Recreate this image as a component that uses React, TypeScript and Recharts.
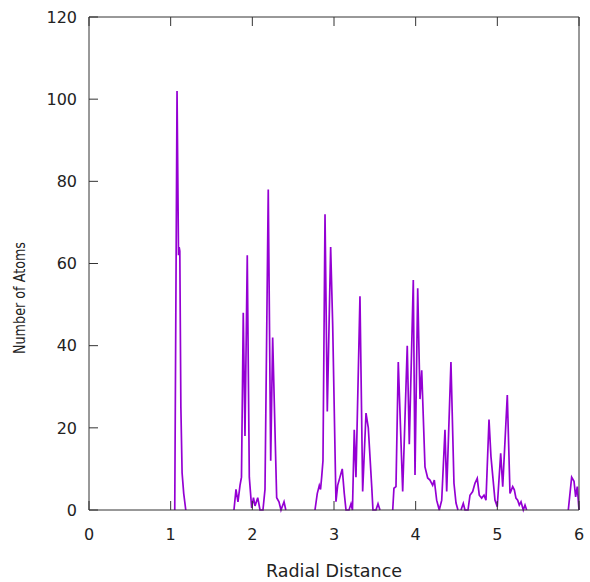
import { LineChart, Line, XAxis, YAxis } from "recharts";

// radial distance / atom counts, read per shell
const shell1R = [1.05, 1.078, 1.096, 1.104, 1.112, 1.125, 1.14, 1.16, 1.185];
const shell1N = [0, 102, 62, 64, 63, 25, 9, 4, 0];

const shell2R = [1.775, 1.8, 1.824, 1.849, 1.867, 1.889, 1.91, 1.938, 1.963, 1.992, 2.014, 2.033, 2.066, 2.094, 2.13, 2.155, 2.195, 2.225, 2.249, 2.298, 2.326, 2.351, 2.388, 2.41];
const shell2N = [0, 5, 2, 6, 8, 48, 18, 62, 8, 0.5, 3, 1, 3, 0, 0, 5, 78, 12, 42, 3, 2, 0, 2, 0];

const shell3R = [2.767, 2.795, 2.82, 2.835, 2.849, 2.865, 2.89, 2.918, 2.959, 2.984, 3.024, 3.045, 3.073, 3.101, 3.126, 3.147, 3.184, 3.208, 3.226, 3.248, 3.269, 3.318, 3.351, 3.392, 3.42, 3.462, 3.477, 3.514, 3.539, 3.563];
const shell3N = [0, 4, 6, 5, 8, 12, 72, 24, 64, 45, 2, 6, 8, 10, 4, 0, 0, 1.5, 0, 19.5, 8, 52, 4.5, 23.6, 20, 5.7, 0, 0, 1.5, 0];

const shell4R = [3.719, 3.734, 3.759, 3.787, 3.841, 3.897, 3.922, 3.971, 3.992, 4.025, 4.053, 4.074, 4.114, 4.147, 4.175, 4.208, 4.228, 4.257, 4.289, 4.319, 4.359, 4.38, 4.432, 4.469, 4.494, 4.518];
const shell4N = [0, 5.3, 5.7, 36, 4.5, 40, 16, 56, 8.5, 54, 27, 34, 10.5, 7.8, 7.3, 6, 7.3, 2.4, 0, 2.4, 19.5, 4.5, 36, 6.5, 1.7, 0];

const shell5R = [4.555, 4.583, 4.604, 4.641, 4.665, 4.698, 4.726, 4.754, 4.779, 4.808, 4.837, 4.861, 4.898, 4.922, 4.971, 4.999, 5.041, 5.066, 5.122, 5.155, 5.188, 5.208, 5.228, 5.249, 5.269, 5.29, 5.318, 5.339, 5.359];
const shell5N = [0, 1.6, 0, 0, 3.6, 4.5, 6.5, 7.7, 3.6, 2.9, 3.6, 2.4, 22, 13, 2.4, 0.8, 13.8, 5.7, 28, 4, 5.7, 4.9, 2.9, 2.4, 1.2, 2, 0, 1.2, 0];

const shell6R = [5.869, 5.91, 5.939, 5.959, 5.979, 6.0];
const shell6N = [0, 8, 7, 3.2, 5.7, 0];

const xTicks = [0, 1, 2, 3, 4, 5, 6];
const yTicks = [0, 20, 40, 60, 80, 100, 120];

const shells = [
  [shell1R, shell1N],
  [shell2R, shell2N],
  [shell3R, shell3N],
  [shell4R, shell4N],
  [shell5R, shell5N],
  [shell6R, shell6N],
];

// join shells, with a null between them so the line breaks on the baseline
const data: { r: number; n: number | null }[] = [];
shells.forEach(([rs, ns], i) => {
  if (i > 0) {
    const prev = shells[i - 1][0];
    data.push({ r: (prev[prev.length - 1] + rs[0]) / 2, n: null });
  }
  rs.forEach((r, j) => data.push({ r, n: ns[j] }));
});

const FONT = "'DejaVu Sans', Verdana, sans-serif";
const AXIS = "#333";
const tickStyle = { fontSize: 16, fill: "#222", fontFamily: FONT };
const noLabel = () => <g />;

export default function App() {
  return (
    <div style={{ position: "absolute", left: 0, top: 0, background: "#fff" }}>
      <LineChart
        width={590}
        height={582}
        data={data}
        margin={{ top: 16, right: 10, left: 9, bottom: 2 }}
      >
        <XAxis
          xAxisId="b"
          dataKey="r"
          type="number"
          domain={[0, 6]}
          ticks={xTicks}
          height={70}
          stroke={AXIS}
          tickSize={-9}
          tickMargin={28}
          tick={tickStyle}
          label={{
            value: "Radial Distance",
            position: "insideBottom",
            offset: 3,
            style: { fontSize: 17.5, fill: "#222", fontFamily: FONT },
          }}
        />
        <XAxis
          xAxisId="t"
          orientation="top"
          dataKey="r"
          type="number"
          domain={[0, 6]}
          ticks={xTicks}
          height={1}
          stroke={AXIS}
          tickSize={-9}
          tick={noLabel}
        />
        <YAxis
          yAxisId="l"
          domain={[0, 120]}
          ticks={yTicks}
          width={80}
          stroke={AXIS}
          tickSize={-9}
          tickMargin={21}
          tick={tickStyle}
          label={{
            content: () => (
              <text
                x={20}
                y={298}
                transform="rotate(-90 20 298)"
                textAnchor="middle"
                dominantBaseline="central"
                textLength={112}
                lengthAdjust="spacingAndGlyphs"
                style={{ fontSize: 15, fill: "#222", fontFamily: FONT }}
              >
                Number of Atoms
              </text>
            ),
          }}
        />
        <YAxis
          yAxisId="r"
          orientation="right"
          domain={[0, 120]}
          ticks={yTicks}
          width={1}
          stroke={AXIS}
          tickSize={-9}
          tick={noLabel}
        />
        <Line
          xAxisId="b"
          yAxisId="l"
          type="linear"
          dataKey="n"
          stroke="#9400D3"
          strokeWidth={1.7}
          dot={false}
          activeDot={false}
          connectNulls={false}
          isAnimationActive={false}
        />
      </LineChart>
    </div>
  );
}
